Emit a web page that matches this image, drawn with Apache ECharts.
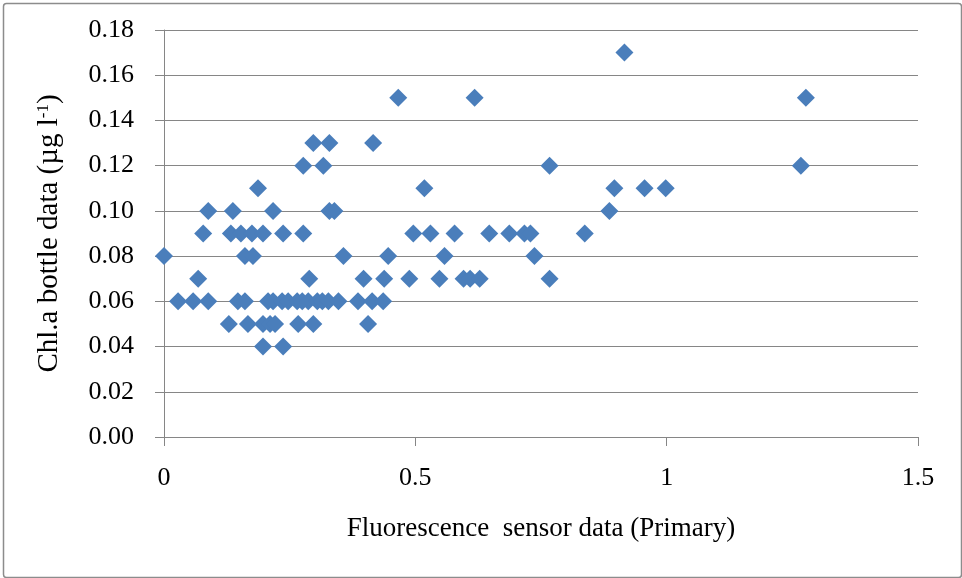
<!DOCTYPE html>
<html><head><meta charset="utf-8">
<script src="https://cdn.jsdelivr.net/npm/echarts@6/dist/echarts.min.js"></script>
<style>html,body{margin:0;padding:0;background:#fff}#c{width:962px;height:578px}</style>
</head><body><div id="c"></div>
<script>
const xTitle = 'Fluorescence  sensor data (Primary)';
const yTitle = 'Chl.a bottle data (µg l';
const xTicks = [0, 0.5, 1, 1.5];
const yTicks = [0, 0.02, 0.04, 0.06, 0.08, 0.10, 0.12, 0.14, 0.16, 0.18];
// sensor values (x) and bottle values (y)
const sensor = [
  0.916,
  0.466, 0.618, 1.277,
  0.297, 0.329, 0.416,
  0.277, 0.317, 0.767, 1.267,
  0.187, 0.518, 0.896, 0.956, 0.998,
  0.088, 0.137, 0.217, 0.329, 0.339, 0.886,
  0.078, 0.133, 0.153, 0.175, 0.197, 0.237, 0.277, 0.496, 0.530, 0.578, 0.647, 0.687, 0.717, 0.729, 0.837,
  0.0, 0.161, 0.177, 0.357, 0.446, 0.558, 0.737,
  0.068, 0.289, 0.397, 0.438, 0.488, 0.548, 0.596, 0.609, 0.628, 0.767,
  0.028, 0.058, 0.088, 0.147, 0.161, 0.207, 0.217, 0.235, 0.247, 0.265, 0.275, 0.287, 0.305, 0.315, 0.327, 0.347, 0.386, 0.414, 0.436,
  0.129, 0.167, 0.197, 0.211, 0.221, 0.267, 0.297, 0.406,
  0.197, 0.237
];
const bottle = [
  0.17,
  0.15, 0.15, 0.15,
  0.13, 0.13, 0.13,
  0.12, 0.12, 0.12, 0.12,
  0.11, 0.11, 0.11, 0.11, 0.11,
  0.10, 0.10, 0.10, 0.10, 0.10, 0.10,
  0.09, 0.09, 0.09, 0.09, 0.09, 0.09, 0.09, 0.09, 0.09, 0.09, 0.09, 0.09, 0.09, 0.09, 0.09,
  0.08, 0.08, 0.08, 0.08, 0.08, 0.08, 0.08,
  0.07, 0.07, 0.07, 0.07, 0.07, 0.07, 0.07, 0.07, 0.07, 0.07,
  0.06, 0.06, 0.06, 0.06, 0.06, 0.06, 0.06, 0.06, 0.06, 0.06, 0.06, 0.06, 0.06, 0.06, 0.06, 0.06, 0.06, 0.06, 0.06,
  0.05, 0.05, 0.05, 0.05, 0.05, 0.05, 0.05, 0.05,
  0.04, 0.04
];
const points = sensor.map((x, i) => [x, bottle[i]]);
const font = '"Liberation Serif", "Times New Roman", serif';
const chart = echarts.init(document.getElementById('c'), null, {renderer: 'canvas'});
chart.setOption({
  animation: false,
  backgroundColor: '#fff',
  graphic: [{
    type: 'rect', left: 1, top: 1,
    shape: {width: 958, height: 574, r: 3},
    style: {fill: 'none', stroke: '#8c8c8c', lineWidth: 1.5},
    silent: true
  }],
  grid: {left: 164, right: 44, top: 30, bottom: 141},
  xAxis: {
    type: 'value', min: xTicks[0], max: xTicks[xTicks.length - 1], interval: 0.5,
    name: xTitle, nameLocation: 'middle', nameGap: 78,
    nameTextStyle: {fontFamily: font, fontSize: 27, color: '#000'},
    axisLine: {show: true, lineStyle: {color: '#868686', width: 1}},
    axisTick: {show: true, inside: false, length: 9, lineStyle: {color: '#868686'}},
    axisLabel: {fontFamily: font, fontSize: 26, color: '#000', margin: 28,
      formatter: v => String(v)},
    splitLine: {show: false}
  },
  yAxis: {
    type: 'value', min: yTicks[0], max: yTicks[yTicks.length - 1], interval: 0.02,
    name: yTitle + '{sup|-1}' + ')', nameLocation: 'middle', nameGap: 100,
    nameTextStyle: {fontFamily: font, fontSize: 29, color: '#000',
      rich: {sup: {fontFamily: font, fontSize: 17, color: '#000', verticalAlign: 'top', padding: [0, 0, 10, 0]}}},
    axisLine: {show: true, lineStyle: {color: '#868686', width: 1}},
    axisTick: {show: true, inside: false, length: 9, lineStyle: {color: '#868686'}},
    axisLabel: {fontFamily: font, fontSize: 26, color: '#000', margin: 30,
      formatter: v => v.toFixed(2)},
    splitLine: {show: true, lineStyle: {color: '#868686', width: 1}}
  },
  series: [{
    type: 'scatter',
    data: points,
    symbol: 'diamond',
    symbolSize: [18, 18],
    itemStyle: {color: '#4a7ebb', opacity: 1},
    clip: false
  }]
});
</script>
</body></html>
